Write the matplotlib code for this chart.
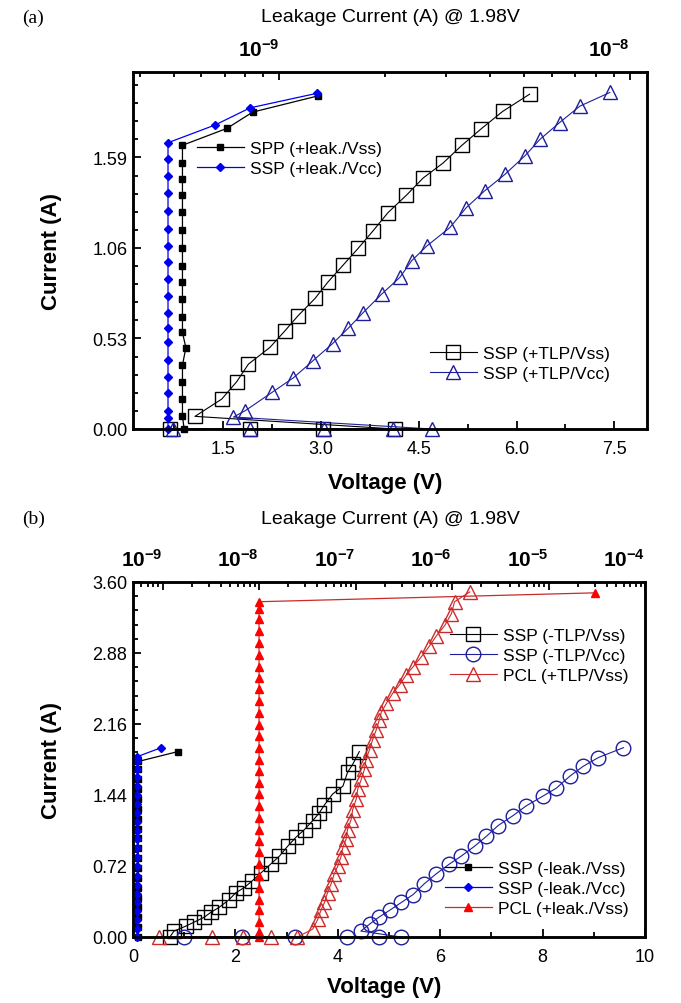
# Two-panel TLP / leakage plot, panel (a) positive and panel (b) negative zapping
import numpy as np
import matplotlib
matplotlib.use('Agg')
import matplotlib.pyplot as plt
from matplotlib.ticker import FixedLocator, MultipleLocator, LogLocator, NullFormatter

plt.rcParams['font.family'] = ['Liberation Sans', 'DejaVu Sans']
plt.rcParams['mathtext.fontset'] = 'custom'
plt.rcParams['mathtext.rm'] = 'Liberation Sans'
plt.rcParams['mathtext.bf'] = 'Liberation Sans:bold'

# ---------------- panel (a) data ----------------
# leakage curves (top log axis, leakage current in A)
a_spp_leak = [5.36e-10, 5.3e-10, 5.3e-10, 5.3e-10, 5.3e-10, 5.42e-10, 5.3e-10, 5.3e-10,
              5.3e-10, 5.3e-10, 5.3e-10, 5.3e-10, 5.3e-10, 5.3e-10, 5.3e-10, 5.3e-10,
              5.3e-10, 5.3e-10, 7.1e-10, 8.4e-10, 1.29e-9]
a_spp_I = [0.0, 0.074, 0.175, 0.277, 0.374, 0.476, 0.565, 0.657, 0.760, 0.858, 0.955,
           1.057, 1.166, 1.271, 1.368, 1.462, 1.560, 1.661, 1.760, 1.855, 1.950]
a_sspv_leak = [4.82e-10] * 19 + [6.57e-10, 8.26e-10, 1.28e-9]
a_sspv_I = [0.0, 0.064, 0.107, 0.209, 0.302, 0.404, 0.507, 0.589, 0.682, 0.780, 0.877,
            0.979, 1.072, 1.173, 1.277, 1.380, 1.481, 1.583, 1.676, 1.78, 1.88, 1.965]
# TLP curves (bottom axis, voltage in V)
a_tlp_vss_V = [0.69, 1.91, 3.03, 4.13, 1.07, 1.48, 1.71, 1.89, 2.22, 2.45, 2.65, 2.91,
               3.11, 3.34, 3.57, 3.80, 4.03, 4.31, 4.57, 4.87, 5.16, 5.46, 5.79, 6.20]
a_tlp_vss_I = [0, 0, 0, 0, 0.074, 0.175, 0.277, 0.38, 0.478, 0.575, 0.663, 0.764,
               0.861, 0.959, 1.057, 1.16, 1.267, 1.368, 1.47, 1.556, 1.66, 1.758, 1.86, 1.96]
a_tlp_vcc_V = [0.74, 1.91, 3.05, 4.10, 4.70, 1.66, 1.84, 2.25, 2.58, 2.88, 3.18, 3.42,
               3.65, 3.93, 4.21, 4.39, 4.62, 4.98, 5.23, 5.51, 5.82, 6.13, 6.36, 6.66,
               6.97, 7.43]
a_tlp_vcc_I = [0, 0, 0, 0, 0, 0.07, 0.107, 0.214, 0.30, 0.40, 0.50, 0.59, 0.682, 0.789,
               0.887, 0.984, 1.07, 1.18, 1.296, 1.394, 1.49, 1.60, 1.696, 1.794, 1.89, 1.97]

# ---------------- panel (b) data ----------------
b_sspss_leak = [5.6e-10] * 19 + [1.44e-9]
b_sspss_I = [0.0, 0.1, 0.2, 0.3, 0.4, 0.5, 0.6, 0.7, 0.8, 0.9, 1.0, 1.1, 1.2, 1.3, 1.4,
             1.5, 1.6, 1.7, 1.78, 1.88]
b_sspcc_leak = [5.5e-10] * 22 + [9.7e-10]
b_sspcc_I = [0.0, 0.08, 0.17, 0.26, 0.35, 0.44, 0.53, 0.62, 0.72, 0.81, 0.90, 0.99, 1.08,
             1.17, 1.26, 1.35, 1.44, 1.53, 1.62, 1.70, 1.78, 1.83, 1.92]
b_pcl_leak = [1.0e-8] * 31 + [3.0e-5]
b_pcl_I = [0.0, 0.05, 0.15, 0.27, 0.38, 0.50, 0.62, 0.74, 0.86, 0.97, 1.09, 1.21, 1.33,
           1.45, 1.56, 1.68, 1.80, 1.92, 2.04, 2.15, 2.27, 2.39, 2.51, 2.63, 2.74, 2.86,
           2.98, 3.10, 3.22, 3.33, 3.40, 3.49]
b_tlp_vss_V = [0.72, 0.80, 1.03, 1.19, 1.39, 1.52, 1.68, 1.88, 2.01, 2.17, 2.33, 2.50,
               2.69, 2.86, 3.02, 3.18, 3.35, 3.51, 3.64, 3.74, 3.90, 4.10, 4.19, 4.29, 4.42]
b_tlp_vss_I = [0.0, 0.06, 0.11, 0.15, 0.20, 0.25, 0.30, 0.38, 0.45, 0.50, 0.57, 0.65,
               0.74, 0.82, 0.92, 1.01, 1.09, 1.18, 1.26, 1.34, 1.45, 1.53, 1.67, 1.75, 1.88]
b_tlp_vcc_V = [0.99, 2.12, 3.17, 4.18, 4.80, 5.23, 4.45, 4.62, 4.80, 5.01, 5.24, 5.47,
               5.69, 5.92, 6.18, 6.41, 6.67, 6.90, 7.13, 7.42, 7.68, 8.01, 8.27, 8.53,
               8.79, 9.09, 9.58]
b_tlp_vcc_I = [0, 0, 0, 0, 0, 0, 0.06, 0.13, 0.20, 0.27, 0.35, 0.43, 0.54, 0.64, 0.74,
               0.82, 0.92, 1.02, 1.13, 1.23, 1.33, 1.43, 1.51, 1.63, 1.73, 1.82, 1.92]
b_pcl_tlp_V = [0.50, 1.55, 2.14, 2.69, 3.21, 3.51, 3.61, 3.67, 3.74, 3.80, 3.87, 3.93,
               4.00, 4.06, 4.10, 4.16, 4.19, 4.26, 4.29, 4.36, 4.39, 4.46, 4.52, 4.55,
               4.62, 4.68, 4.75, 4.81, 4.85, 4.95, 5.07, 5.21, 5.34, 5.47, 5.63, 5.79,
               5.92, 6.09, 6.22, 6.28, 6.58]
b_pcl_tlp_I = [0, 0, 0, 0, 0, 0.08, 0.18, 0.27, 0.35, 0.45, 0.54, 0.64, 0.72, 0.81,
               0.91, 0.99, 1.09, 1.19, 1.29, 1.40, 1.50, 1.60, 1.70, 1.80, 1.90, 2.00,
               2.10, 2.20, 2.28, 2.37, 2.47, 2.56, 2.66, 2.74, 2.84, 2.95, 3.05, 3.16,
               3.28, 3.40, 3.50]

a_yticks = [0.0, 0.53, 1.06, 1.59]
b_yticks = [0.0, 0.72, 1.44, 2.16, 2.88, 3.60]
a_xticks = [1.5, 3.0, 4.5, 6.0, 7.5]
b_xticks = [0, 2, 4, 6, 8, 10]
a_topticks = [1e-9, 1e-8]
b_topticks = [1e-9, 1e-8, 1e-7, 1e-6, 1e-5, 1e-4]

W, H = 681, 1004
fig = plt.figure(figsize=(W / 100, H / 100), dpi=100)


def px(x0, y0):
    return x0 / W, 1 - y0 / H


def make_axes(box, xlim, ylim, xticks, xminor, yticks, yminor, toplim, topticks):
    l, t, r, b = box
    ax = fig.add_axes([l / W, 1 - b / H, (r - l) / W, (b - t) / H])
    ax.set_xlim(*xlim)
    ax.set_ylim(*ylim)
    ax.set_xticks(xticks)
    ax.xaxis.set_minor_locator(MultipleLocator(xminor))
    ax.set_yticks(yticks)
    ax.set_yticklabels([f'{v:.2f}' for v in yticks])
    ax.yaxis.set_minor_locator(MultipleLocator(yminor))
    ax.tick_params(which='both', direction='in', top=False, right=False, width=1.3)
    ax.tick_params(which='major', length=6, labelsize=13)
    ax.tick_params(which='minor', length=3.5)
    ax.tick_params(axis='x', pad=8)
    ax.tick_params(axis='y', pad=4)
    for s in ax.spines.values():
        s.set_linewidth(1.8)

    top = ax.twiny()
    top.set_xscale('log')
    top.set_xlim(*toplim)
    top.set_xticks(topticks)
    top.set_xticklabels([r'$\mathbf{10^{%d}}$' % round(np.log10(v)) for v in topticks])
    top.xaxis.set_minor_locator(LogLocator(base=10, subs=np.arange(2, 10), numticks=50))
    top.xaxis.set_minor_formatter(NullFormatter())
    top.tick_params(which='both', direction='in', width=1.3, pad=9)
    top.tick_params(which='major', length=6, labelsize=15)
    top.tick_params(which='minor', length=3.5)
    for lab in top.get_xticklabels():
        lab.set_horizontalalignment('right')
    for s in top.spines.values():
        s.set_linewidth(1.8)
    return ax, top


def decorate(ax, tag, ytop, xlab_y, ylab_y):
    fig.text(*px(22, ytop), tag, family='Liberation Serif', fontsize=14, va='center')
    fig.text(*px(390, ytop), 'Leakage Current (A) @ 1.98V', fontsize=14,
             ha='center', va='center')
    ax.set_xlabel('Voltage (V)', fontsize=16, fontweight='bold')
    ax.xaxis.set_label_coords(0.49, xlab_y)
    ax.set_ylabel('Current (A)', fontsize=16, fontweight='bold')
    ax.yaxis.set_label_coords(-0.138, ylab_y)


leg_kw = dict(frameon=False, fontsize=12.5, handlelength=2.7, handletextpad=0.35,
              labelspacing=0.28, borderpad=0, borderaxespad=0, numpoints=1,
              loc='upper left', bbox_transform=fig.transFigure)

blk, blue, navy, red, dred = '#000000', '#0000ee', '#1e1e9c', '#ff0000', '#cc2a2a'

# ---------------- panel (a) ----------------
axA, topA = make_axes((133, 73, 647, 430), (0.12, 8.0), (0, 2.09), a_xticks, 0.75,
                      a_yticks, 0.106, (3.83e-10, 1.12e-8), a_topticks)
ta1, = axA.plot(a_tlp_vss_V, a_tlp_vss_I, '-', color=blk, lw=0.8, marker='s', ms=9.5,
                mfc='none', mec=blk, mew=1.0, clip_on=False,
                label='SSP (+TLP/Vss)')
ta2, = axA.plot(a_tlp_vcc_V, a_tlp_vcc_I, '-', color=navy, lw=0.8, marker='^', ms=10.5,
                mfc='none', mec=navy, mew=1.0, clip_on=False,
                label='SSP (+TLP/Vcc)')
la1, = topA.plot(a_spp_leak, a_spp_I, '-', color=blk, lw=0.9, marker='s', ms=4,
                 clip_on=False, label='SPP (+leak./Vss)')
la2, = topA.plot(a_sspv_leak, a_sspv_I, '-', color=blue, lw=0.9, marker='D', ms=3.6,
                 clip_on=False, label='SSP (+leak./Vcc)')
topA.legend(handles=[la1, la2], bbox_to_anchor=px(197, 142), **leg_kw)
axA.legend(handles=[ta1, ta2], bbox_to_anchor=px(430, 347), **leg_kw)
decorate(axA, '(a)', 18, -0.12, 0.5)

# ---------------- panel (b) ----------------
axB, topB = make_axes((133, 583, 645, 938), (0, 10), (0, 3.6), b_xticks, 1,
                      b_yticks, 0.144, (4.94e-10, 1.0e-4), b_topticks)
tb1, = axB.plot(b_tlp_vss_V, b_tlp_vss_I, '-', color=blk, lw=0.8, marker='s', ms=9.5,
                mfc='none', mec=blk, mew=1.0, clip_on=False,
                label='SSP (-TLP/Vss)')
tb2, = axB.plot(b_tlp_vcc_V, b_tlp_vcc_I, '-', color=navy, lw=0.8, marker='o', ms=10.5,
                mfc='none', mec=navy, mew=1.0, clip_on=False,
                label='SSP (-TLP/Vcc)')
tb3, = axB.plot(b_pcl_tlp_V, b_pcl_tlp_I, '-', color=dred, lw=0.8, marker='^', ms=10,
                mfc='none', mec=dred, mew=1.0, clip_on=False,
                label='PCL (+TLP/Vss)')
lb1, = topB.plot(b_sspss_leak, b_sspss_I, '-', color=blk, lw=0.9, marker='s', ms=4,
                 clip_on=False, label='SSP (-leak./Vss)')
lb2, = topB.plot(b_sspcc_leak, b_sspcc_I, '-', color=blue, lw=0.9, marker='D', ms=3.8,
                 clip_on=False, label='SSP (-leak./Vcc)')
lb3, = topB.plot(b_pcl_leak, b_pcl_I, '-', color=dred, lw=0.9, marker='^', ms=6,
                 mfc=red, mec=red, clip_on=False, label='PCL (+leak./Vss)')
axB.legend(handles=[tb1, tb2, tb3], bbox_to_anchor=px(450, 629), **leg_kw)
topB.legend(handles=[lb1, lb2, lb3], bbox_to_anchor=px(445, 862), **leg_kw)
decorate(axB, '(b)', 519, -0.11, 0.5)

fig.savefig('out.png', dpi=100)
